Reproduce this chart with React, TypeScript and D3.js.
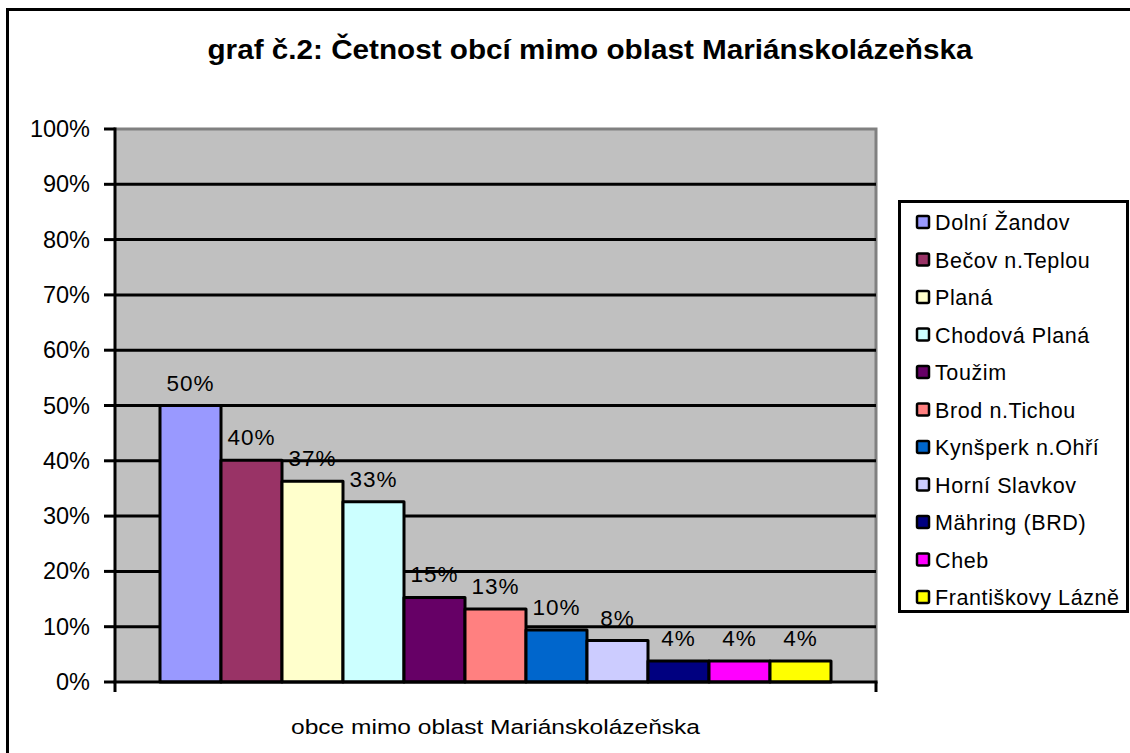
import React from "react";
import * as d3 from "d3";

// obce mimo oblast Mariánskolázeňska - četnost
const obce = [
  "Dolní Žandov",
  "Bečov n.Teplou",
  "Planá",
  "Chodová Planá",
  "Toužim",
  "Brod n.Tichou",
  "Kynšperk n.Ohří",
  "Horní Slavkov",
  "Mähring (BRD)",
  "Cheb",
  "Františkovy Lázně",
];
const cetnost = [0.5, 0.401, 0.363, 0.326, 0.153, 0.132, 0.094, 0.075, 0.038, 0.038, 0.038];
const popisky = ["50%", "40%", "37%", "33%", "15%", "13%", "10%", "8%", "4%", "4%", "4%"];
const barvy = [
  "#9999FF",
  "#993366",
  "#FFFFCC",
  "#CCFFFF",
  "#660066",
  "#FF8080",
  "#0066CC",
  "#CCCCFF",
  "#000080",
  "#FF00FF",
  "#FFFF00",
];
const yTicks = [0, 0.1, 0.2, 0.3, 0.4, 0.5, 0.6, 0.7, 0.8, 0.9, 1];

const App = () => {
  const left = 115;
  const right = 876;
  const top = 129;
  const bottom = 682;
  const inset = 45;

  const y = d3.scaleLinear().domain([0, 1]).range([bottom, top]);
  const x = d3
    .scaleBand<string>()
    .domain(obce)
    .range([left + inset, right - inset])
    .padding(0);
  const fmt = d3.format(".0%");
  const font = "Arial, 'Liberation Sans', sans-serif";

  return (
    <svg
      width={1130}
      height={753}
      style={{ position: "absolute", left: 0, top: 0, display: "block" }}
      fontFamily={font}
    >
      <rect x={0} y={0} width={1130} height={753} fill="#fff" />
      <rect x={7.5} y={9.5} width={1140} height={760} fill="#fff" stroke="#000" strokeWidth={3} />

      <text
        x={590}
        y={59}
        textAnchor="middle"
        fontSize={27.5}
        fontWeight="bold"
        fill="#000"
        textLength={765}
        lengthAdjust="spacingAndGlyphs"
      >
        graf č.2: Četnost obcí mimo oblast Mariánskolázeňska
      </text>

      {/* plot area */}
      <rect x={left} y={top} width={right - left} height={bottom - top} fill="#C0C0C0" />
      <path
        d={`M${left},${top} H${right} V${bottom}`}
        fill="none"
        stroke="#808080"
        strokeWidth={3}
      />

      {yTicks.slice(1, -1).map((t) => (
        <line key={t} x1={left} x2={right} y1={y(t)} y2={y(t)} stroke="#000" strokeWidth={3} />
      ))}

      {obce.map((o, i) => (
        <rect
          key={o}
          x={x(o)}
          y={y(cetnost[i])}
          width={x.bandwidth()}
          height={bottom - y(cetnost[i])}
          fill={barvy[i]}
          stroke="#000"
          strokeWidth={3}
          strokeLinejoin="round"
        />
      ))}

      {obce.map((o, i) => (
        <text
          key={o}
          x={(x(o) as number) + x.bandwidth() / 2}
          y={y(cetnost[i]) - 15}
          textAnchor="middle"
          fontSize={22.5}
          letterSpacing={1}
          fill="#000"
        >
          {popisky[i]}
        </text>
      ))}

      {/* axes */}
      <line x1={left} x2={left} y1={top - 1.5} y2={bottom + 10} stroke="#000" strokeWidth={3} />
      <line x1={left - 1.5} x2={right + 1.5} y1={bottom} y2={bottom} stroke="#000" strokeWidth={3} />
      <line x1={right} x2={right} y1={bottom} y2={bottom + 10} stroke="#000" strokeWidth={3} />
      {yTicks.map((t) => (
        <g key={t}>
          <line x1={left - 11} x2={left} y1={y(t)} y2={y(t)} stroke="#000" strokeWidth={3} />
          <text x={90} y={y(t) + 8} textAnchor="end" fontSize={23.5} fill="#000">
            {fmt(t)}
          </text>
        </g>
      ))}

      <text
        x={(left + right) / 2}
        y={734}
        textAnchor="middle"
        fontSize={20.5}
        fill="#000"
        textLength={409}
        lengthAdjust="spacingAndGlyphs"
      >
        obce mimo oblast Mariánskolázeňska
      </text>

      {/* legend */}
      <rect x={899.5} y={201.5} width={228} height={410} fill="#fff" stroke="#000" strokeWidth={3} />
      {obce.map((o, i) => {
        const cy = 222 + i * 37.5;
        return (
          <g key={o}>
            <rect
              x={917}
              y={cy - 6}
              width={12}
              height={12}
              rx={1.5}
              fill={barvy[i]}
              stroke="#000"
              strokeWidth={2.5}
            />
            <text x={935} y={cy + 8} fontSize={21.5} letterSpacing={0.6} fill="#000">
              {o}
            </text>
          </g>
        );
      })}
    </svg>
  );
};

export default App;
